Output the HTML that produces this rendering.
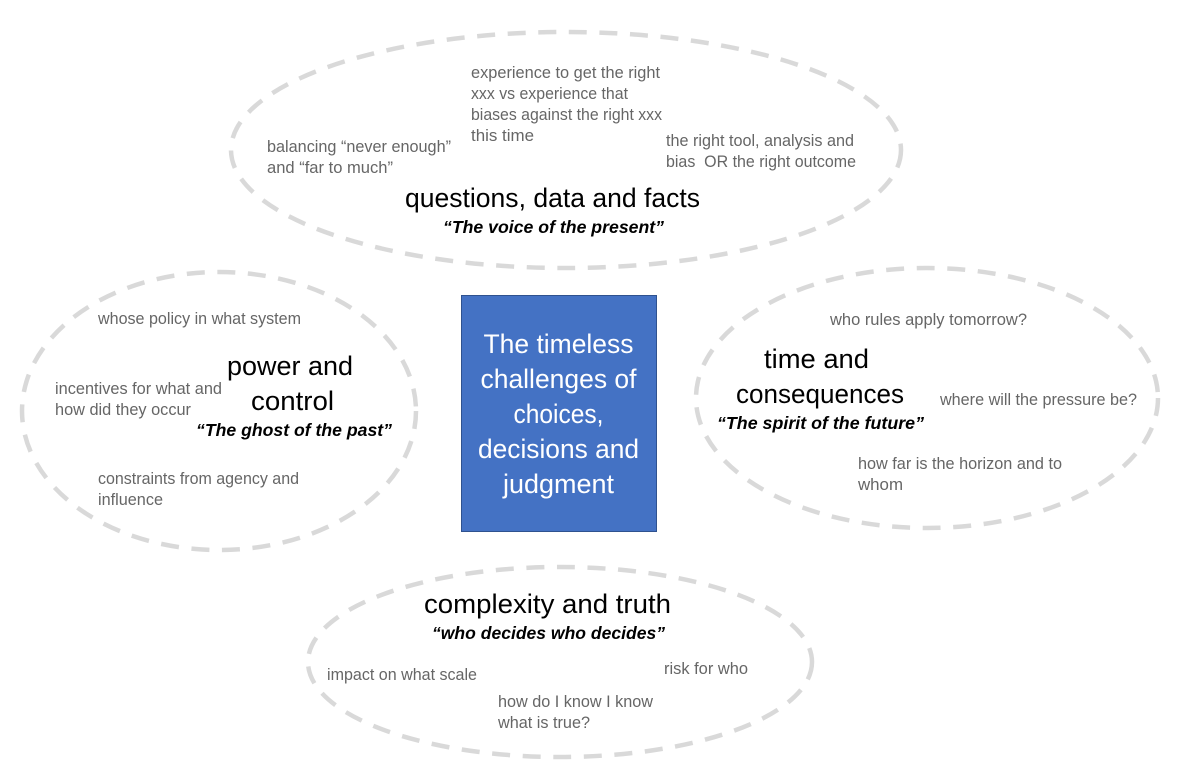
<!DOCTYPE html>
<html><head><meta charset="utf-8"><style>
html,body{margin:0;padding:0;background:#fff}
svg{display:block}
text{font-family:"Liberation Sans",sans-serif;white-space:pre}
.s{font-size:16.300px;fill:#666}
.h{font-size:26.500px;fill:#000}
.q{font-size:17.500px;fill:#000;font-weight:bold;font-style:italic}
.c{font-size:27px;fill:#fff;text-anchor:middle}
ellipse{fill:none;stroke:#d9d9d9;stroke-width:4.500;stroke-dasharray:18 12.600}
</style></head><body>
<svg width="1181" height="778" viewBox="0 0 1181 778" xmlns="http://www.w3.org/2000/svg">
<ellipse cx="566" cy="150" rx="335" ry="118"/>
<ellipse cx="219" cy="411" rx="197" ry="139"/>
<ellipse cx="927" cy="398" rx="231" ry="130"/>
<ellipse cx="560" cy="662" rx="252" ry="95"/>
<rect x="461.500" y="295.500" width="195" height="236" fill="#4472c4" stroke="#2f528f"/>
<text class="c" x="558.500" y="353" textLength="150" lengthAdjust="spacingAndGlyphs">The timeless</text>
<text class="c" x="558.500" y="388" textLength="156" lengthAdjust="spacingAndGlyphs">challenges of</text>
<text class="c" x="558.500" y="423" textLength="90" lengthAdjust="spacingAndGlyphs">choices,</text>
<text class="c" x="558.500" y="458" textLength="161" lengthAdjust="spacingAndGlyphs">decisions and</text>
<text class="c" x="558.500" y="493" textLength="111" lengthAdjust="spacingAndGlyphs">judgment</text>

<text class="s" x="471" y="78" textLength="189" lengthAdjust="spacingAndGlyphs">experience to get the right</text>
<text class="s" x="471" y="99" textLength="157" lengthAdjust="spacingAndGlyphs">xxx vs experience that</text>
<text class="s" x="471" y="120" textLength="191" lengthAdjust="spacingAndGlyphs">biases against the right xxx</text>
<text class="s" x="471" y="141" textLength="63" lengthAdjust="spacingAndGlyphs">this time</text>
<text class="s" x="267" y="152" textLength="184" lengthAdjust="spacingAndGlyphs">balancing “never enough”</text>
<text class="s" x="267" y="173" textLength="126" lengthAdjust="spacingAndGlyphs">and “far to much”</text>
<text class="s" x="666" y="146" textLength="188" lengthAdjust="spacingAndGlyphs">the right tool, analysis and</text>
<text class="s" x="666" y="167" textLength="190" lengthAdjust="spacingAndGlyphs">bias  OR the right outcome</text>
<text class="h" x="405" y="207" textLength="295" lengthAdjust="spacingAndGlyphs">questions, data and facts</text>
<text class="q" x="443" y="233" textLength="221" lengthAdjust="spacingAndGlyphs">“The voice of the present”</text>

<text class="s" x="98" y="324" textLength="203" lengthAdjust="spacingAndGlyphs">whose policy in what system</text>
<text class="h" x="227" y="375" textLength="126" lengthAdjust="spacingAndGlyphs">power and</text>
<text class="h" x="251" y="410" textLength="83" lengthAdjust="spacingAndGlyphs">control</text>
<text class="s" x="55" y="394" textLength="167" lengthAdjust="spacingAndGlyphs">incentives for what and</text>
<text class="s" x="55" y="415" textLength="136" lengthAdjust="spacingAndGlyphs">how did they occur</text>
<text class="q" x="196" y="436" textLength="196" lengthAdjust="spacingAndGlyphs">“The ghost of the past”</text>
<text class="s" x="98" y="484" textLength="201" lengthAdjust="spacingAndGlyphs">constraints from agency and</text>
<text class="s" x="98" y="505" textLength="65" lengthAdjust="spacingAndGlyphs">influence</text>

<text class="s" x="830" y="325" textLength="197" lengthAdjust="spacingAndGlyphs">who rules apply tomorrow?</text>
<text class="h" x="764" y="368" textLength="105" lengthAdjust="spacingAndGlyphs">time and</text>
<text class="h" x="736" y="403" textLength="168" lengthAdjust="spacingAndGlyphs">consequences</text>
<text class="s" x="940" y="405" textLength="197" lengthAdjust="spacingAndGlyphs">where will the pressure be?</text>
<text class="q" x="717" y="429" textLength="207" lengthAdjust="spacingAndGlyphs">“The spirit of the future”</text>
<text class="s" x="858" y="469" textLength="204" lengthAdjust="spacingAndGlyphs">how far is the horizon and to</text>
<text class="s" x="858" y="490" textLength="45" lengthAdjust="spacingAndGlyphs">whom</text>

<text class="h" x="424" y="613" textLength="247" lengthAdjust="spacingAndGlyphs">complexity and truth</text>
<text class="q" x="432" y="639" textLength="233" lengthAdjust="spacingAndGlyphs">“who decides who decides”</text>
<text class="s" x="327" y="680" textLength="150" lengthAdjust="spacingAndGlyphs">impact on what scale</text>
<text class="s" x="664" y="674" textLength="84" lengthAdjust="spacingAndGlyphs">risk for who</text>
<text class="s" x="498" y="707" textLength="155" lengthAdjust="spacingAndGlyphs">how do I know I know</text>
<text class="s" x="498" y="728" textLength="92" lengthAdjust="spacingAndGlyphs">what is true?</text>
</svg>
</body></html>
